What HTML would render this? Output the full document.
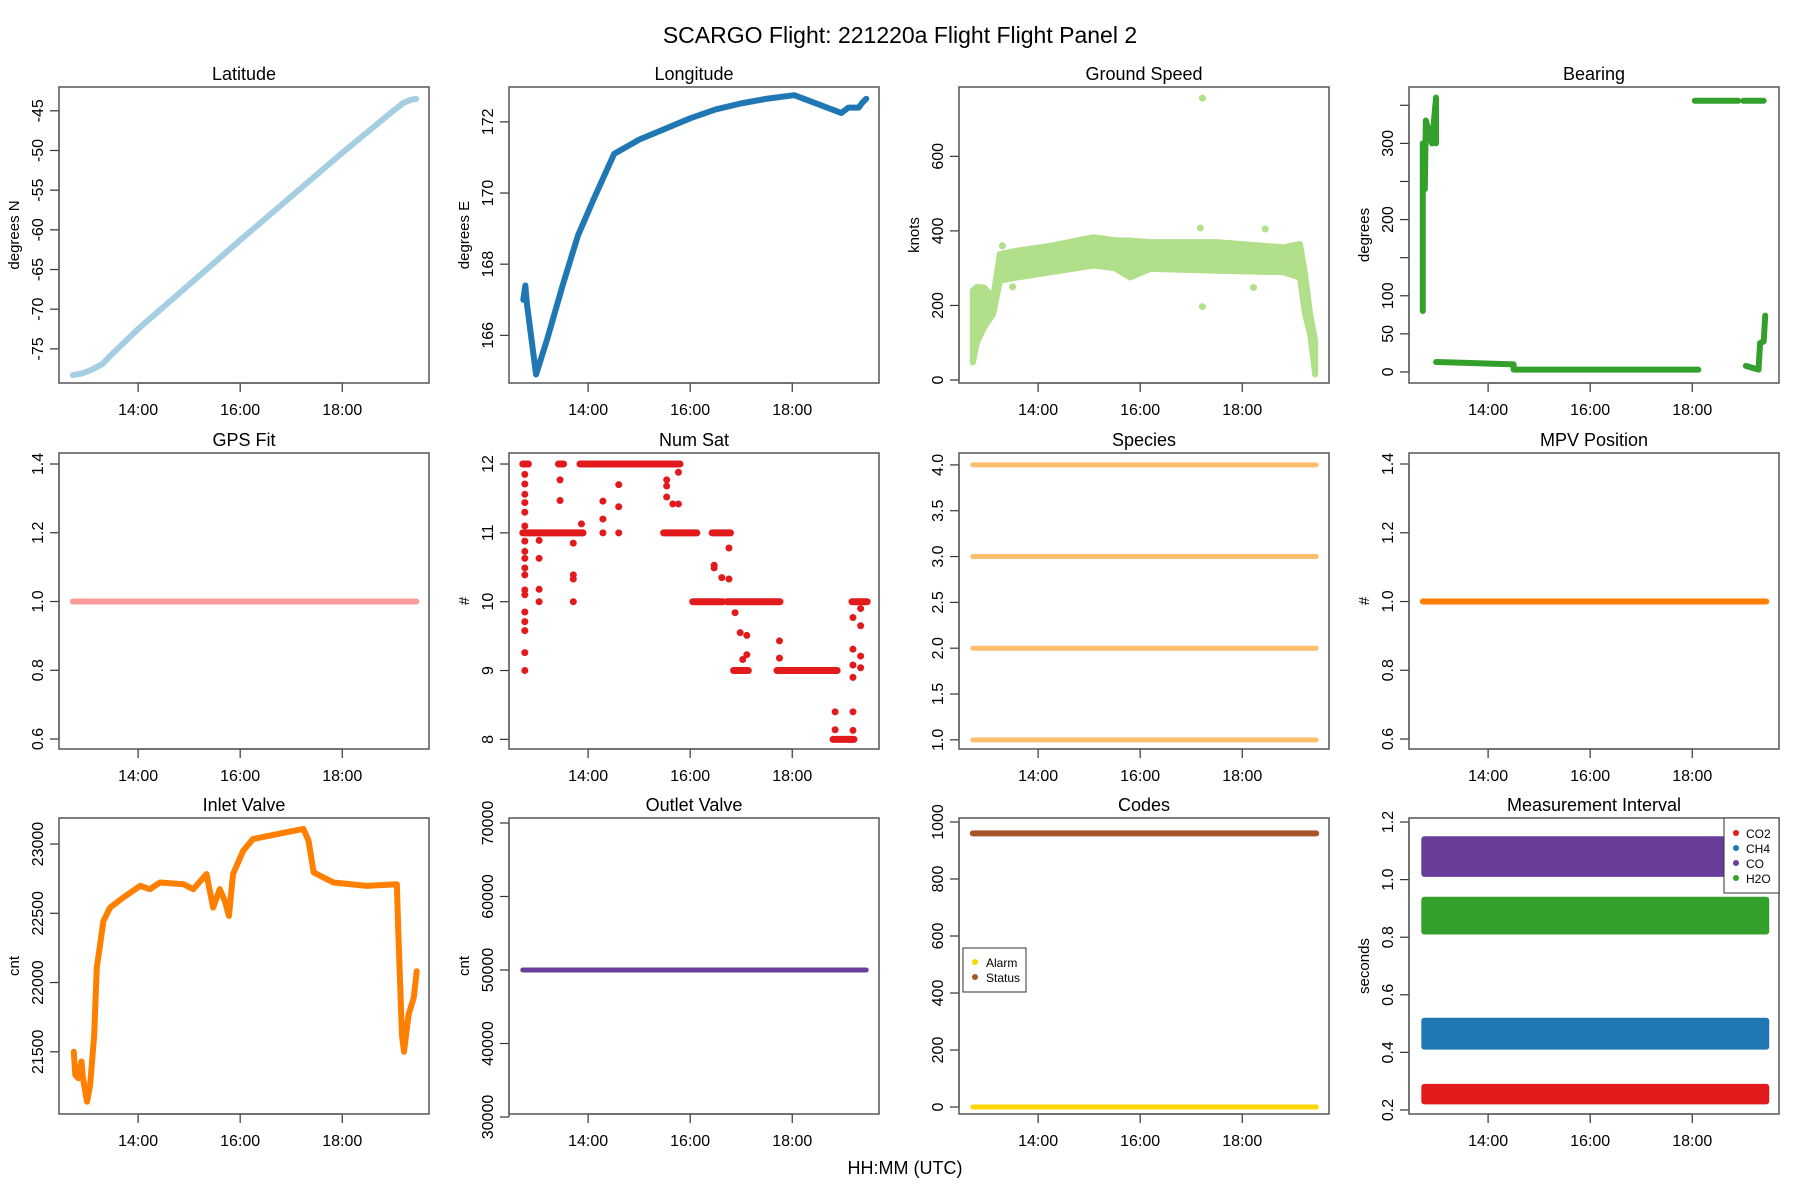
<!DOCTYPE html>
<html><head><meta charset="utf-8"><style>
body{margin:0;background:#fff}
svg{display:block;font-family:"Liberation Sans",sans-serif}
</style></head><body>
<svg id="c" width="1800" height="1200" xmlns="http://www.w3.org/2000/svg">
<text x="900" y="43" font-size="23" text-anchor="middle">SCARGO Flight: 221220a  Flight Flight  Panel 2</text>
<text x="905" y="1174" font-size="18" text-anchor="middle">HH:MM (UTC)</text>
</svg>
<script>
const xTickVals=[14,16,18];
const xTickLabels=["14:00","16:00","18:00"];
const latT=[12.72,12.9,13.1,13.3,13.5,14,15,16,17,18,19,19.2,19.35,19.45];
const latV=[-78.3,-78.1,-77.6,-76.9,-75.6,-72.5,-66.9,-61.3,-55.8,-50.3,-45.0,-44.0,-43.6,-43.5];
const lonT=[12.73,12.77,12.8,12.98,13.2,13.5,13.8,14.1,14.51,15,15.5,16,16.5,17,17.5,18.04,18.5,18.96,19.1,19.3,19.38,19.45];
const lonV=[167.0,167.4,166.9,164.9,165.9,167.4,168.8,169.8,171.1,171.5,171.8,172.1,172.35,172.52,172.65,172.75,172.5,172.25,172.4,172.4,172.55,172.65];
const gsT=[12.72,12.8,12.94,13.12,13.25,13.58,14.24,15.09,15.5,15.8,16.2,17.5,18.8,19.13,19.23,19.33,19.43];
const gsLo=[47,100,141,177,266,275,289,307,300,275,298,293,289,275,177,123,15];
const gsHi=[240,250,248,222,338,347,360,383,375,374,370,370,356,365,284,177,105];
const gsOutT=[17.22,17.22,18.22,18.45,17.18,13.3,13.5];
const gsOutV=[756,197,248,405,408,360,250];
const brgSegT=[[12.72,12.72],[12.76,12.78,12.9,12.98,12.98],[12.98,13.5,14.5,14.5,16,18.12],[18.05,18.9],[19.0,19.4],[19.05,19.3,19.3,19.33,19.4,19.43]];
const brgSegV=[[80,300],[240,330,300,360,300],[13,12,10,3,3,3],[356,356],[356,356],[8,3,5,38,40,74]];
const gpsT=[12.72,19.45];
const gpsV=[1.0,1.0];
const satRunStart=[13.84,12.72,13.42,12.72,15.48,16.43,16.05,16.72,19.17,16.85,17.7,18.8];
const satRunEnd=[15.8,12.83,13.52,13.9,16.13,16.79,16.64,17.76,19.47,17.14,18.88,19.21];
const satRunVal=[12,12,12,11,11,11,10,10,10,9,9,8];
const satPtT=[12.76,12.76,12.76,12.76,12.76,12.76,12.76,12.76,12.76,12.76,12.76,12.76,12.76,12.76,12.76,12.76,12.76,12.76,13.04,13.04,13.04,13.04,13.45,13.45,13.71,13.71,13.71,13.71,13.87,14.29,14.29,14.29,14.6,14.6,14.6,15.54,15.54,15.54,15.66,15.77,15.77,16.47,16.47,16.62,16.76,16.76,16.88,16.98,17.03,17.11,17.11,17.75,17.75,18.84,18.84,19.19,19.19,19.19,19.19,19.19,19.19,19.34,19.34,19.34,19.34];
const satPtV=[11.85,11.71,11.56,11.44,11.3,11.1,10.88,10.73,10.63,10.49,10.39,10.17,10.1,9.85,9.71,9.58,9.26,9.0,10.89,10.63,10.18,10,11.77,11.47,10.85,10.39,10.33,10,11.13,11.46,11.2,11.0,11.7,11.38,11.0,11.77,11.68,11.52,11.42,11.88,11.42,10.53,10.49,10.35,10.78,10.33,9.84,9.55,9.16,9.51,9.23,9.43,9.18,8.4,8.14,9.77,9.31,9.08,8.9,8.4,8.13,9.9,9.65,9.21,9.04];
const speciesVals=[1,2,3,4];
const mpvV=[1.0,1.0];
const inT=[12.74,12.77,12.83,12.89,12.92,13.0,13.06,13.14,13.19,13.32,13.45,13.71,14.04,14.23,14.43,14.89,15.08,15.34,15.47,15.6,15.7,15.78,15.86,16.06,16.25,16.84,17.24,17.34,17.44,17.83,18.48,19.07,19.1,19.17,19.21,19.3,19.4,19.46];
const inV=[21500,21333,21309,21430,21309,21140,21261,21623,22106,22444,22541,22614,22698,22674,22722,22710,22674,22783,22541,22674,22589,22481,22783,22952,23036,23080,23109,23024,22795,22722,22698,22710,22348,21623,21500,21768,21889,22082];
const outV=[50000,50000];
const codeStatusV=[960,960];
const codeAlarmV=[0,0];
const measNames=["CO2","CH4","CO","H2O"];
const measLo=[0.23,0.42,1.02,0.82];
const measHi=[0.28,0.51,1.14,0.93];

const NS="http://www.w3.org/2000/svg";
const svg=document.getElementById('c');
function el(tag,attrs,parent){const e=document.createElementNS(NS,tag);for(const k in attrs)e.setAttribute(k,attrs[k]);(parent||svg).appendChild(e);return e;}
const colL=[59,509,959,1409], rowT=[87,453,818], W=370, H=296;
const XD=[12.45,19.7];

function panel(ci,ri,title,ylab,yd,ticks,labels,name){
  const L=colL[ci],T=rowT[ri];
  const g=el('g',{});
  
  
  const sx=t=>L+(t-XD[0])/(XD[1]-XD[0])*W;
  const sy=v=>T+H-(v-yd[0])/(yd[1]-yd[0])*H;
  const tt=el('text',{x:L+W/2,y:T-7,'font-size':18,'text-anchor':'middle'},g);
  tt.textContent=title;
  
  
  const ax=el('g',{stroke:'#333','stroke-width':1.2},g);
  
  
  el('line',{x1:sx(xTickVals[0]),x2:sx(xTickVals[xTickVals.length-1]),y1:T+H,y2:T+H},ax);
  xTickVals.forEach((v,i)=>{
    el('line',{x1:sx(v),x2:sx(v),y1:T+H,y2:T+H+9},ax);
    const tx=el('text',{x:sx(v),y:T+H+32,'font-size':16,'text-anchor':'middle',stroke:'none',fill:'#000'},g);
    tx.textContent=xTickLabels[i];
    
    
  });
  const ay=el('g',{stroke:'#333','stroke-width':1.2},g);
  
  
  el('line',{x1:L,x2:L,y1:sy(ticks[0]),y2:sy(ticks[ticks.length-1])},ay);
  ticks.forEach((v,i)=>{
    el('line',{x1:L-9,x2:L,y1:sy(v),y2:sy(v)},ay);
    if(labels[i]!==''){
      const ty=el('text',{x:0,y:0,'font-size':16,'text-anchor':'middle',transform:`translate(${L-16},${sy(v)}) rotate(-90)`},g);
      ty.textContent=labels[i];
      
      
    }
  });
  const yl=el('text',{x:0,y:0,'font-size':15,'text-anchor':'middle',transform:`translate(${L-40},${T+H/2}) rotate(-90)`},g);
  yl.textContent=ylab;
  
  
  const clip=el('clipPath',{id:'cl'+name},g);
  el('rect',{x:L,y:T,width:W,height:H},clip);
  const plot=el('g',{'clip-path':`url(#cl${name})`},g);
  const box=el('rect',{x:L,y:T,width:W,height:H,fill:'none',stroke:'#555','stroke-width':1.5},g);
  
  
  return {sx,sy,plot,g,L,T};
}
function line(p,ts,vs,col,w,nm){
  const pl=el('polyline',{points:ts.map((t,i)=>p.sx(t)+','+p.sy(vs[i])).join(' '),fill:'none',stroke:col,'stroke-width':w,'stroke-linejoin':'round','stroke-linecap':'round'},p.plot);
  
  
  return pl;
}
function band(p,ts,lo,hi,col,nm){
  const pts=ts.map((t,i)=>p.sx(t)+','+p.sy(hi[i])).concat(ts.slice().reverse().map((t,j)=>p.sx(t)+','+p.sy(lo[ts.length-1-j])));
  const pg=el('polygon',{points:pts.join(' '),fill:col,stroke:col,'stroke-width':6,'stroke-linejoin':'round'},p.plot);
  
  
}
function dot(p,t,v,col,r,nm){
  const c=el('circle',{cx:p.sx(t),cy:p.sy(v),r:r,fill:col},p.plot);
  
  
}

// Latitude
let p=panel(0,0,'Latitude','degrees N',[-79.3,-42],[-75,-70,-65,-60,-55,-50,-45],['-75','-70','-65','-60','-55','-50','-45'],'latitude');
line(p,latT,latV,'#A6CEE3',6,'latitude-line');
// Longitude
p=panel(1,0,'Longitude','degrees E',[164.66,172.98],[166,168,170,172],['166','168','170','172'],'longitude');
line(p,lonT,lonV,'#1F78B4',6,'longitude-line');
// Ground speed
p=panel(2,0,'Ground Speed','knots',[-8,786],[0,200,400,600],['0','200','400','600'],'ground-speed');
band(p,gsT,gsLo,gsHi,'#B2DF8A','ground-speed-band');
gsOutT.forEach((t,i)=>dot(p,t,gsOutV[i],'#B2DF8A',3.5,'ground-speed-outlier'));
// Bearing
p=panel(3,0,'Bearing','degrees',[-14.5,374],[0,50,100,150,200,250,300,350],['0','50','100','','200','','300',''],'bearing');
brgSegT.forEach((ts,i)=>line(p,ts,brgSegV[i],'#33A02C',6,'bearing-segment'));
// GPS fit
p=panel(0,1,'GPS Fit','',[0.571,1.432],[0.6,0.8,1.0,1.2,1.4],['0.6','0.8','1.0','1.2','1.4'],'gps-fit');
line(p,gpsT,gpsV,'#FB9A99',6,'gps-fit-line');
// Num sat
p=panel(1,1,'Num Sat','#',[7.86,12.16],[8,9,10,11,12],['8','9','10','11','12'],'num-sat');
satRunVal.forEach((v,i)=>line(p,[satRunStart[i],satRunEnd[i]],[v,v],'#E31A1C',7,'num-sat-run'));
satPtT.forEach((t,i)=>dot(p,t,satPtV[i],'#E31A1C',3.5,'num-sat-point'));
// Species
p=panel(2,1,'Species','',[0.90,4.13],[1,1.5,2,2.5,3,3.5,4],['1.0','1.5','2.0','2.5','3.0','3.5','4.0'],'species');
speciesVals.forEach(v=>line(p,gpsT,[v,v],'#FDBF6F',5,'species-line'));
// MPV
p=panel(3,1,'MPV Position','#',[0.571,1.432],[0.6,0.8,1.0,1.2,1.4],['0.6','0.8','1.0','1.2','1.4'],'mpv-position');
line(p,gpsT,mpvV,'#FF7F00',6,'mpv-line');
// Inlet
p=panel(0,2,'Inlet Valve','cnt',[21051,23188],[21500,22000,22500,23000],['21500','22000','22500','23000'],'inlet-valve');
line(p,inT,inV,'#FF7F00',6,'inlet-line');
// Outlet
p=panel(1,2,'Outlet Valve','cnt',[30408,70680],[30000,40000,50000,60000,70000],['30000','40000','50000','60000','70000'],'outlet-valve');
line(p,gpsT,outV,'#6A3D9A',5,'outlet-line');
// Codes
p=panel(2,2,'Codes','',[-24.5,1014],[0,200,400,600,800,1000],['0','200','400','600','800','1000'],'codes');
line(p,gpsT,codeStatusV,'#A65628',6,'codes-status-line');
line(p,gpsT,codeAlarmV,'#FFD700',5,'codes-alarm-line');
{
  const lg=el('g',{},p.g);
  
  
  el('rect',{x:963,y:948,width:63,height:44,fill:'#fff',stroke:'#333','stroke-width':1},lg);
  [['Alarm','#FFD700'],['Status','#A65628']].forEach((d,i)=>{
    el('circle',{cx:975,cy:962+i*15,r:3,fill:d[1]},lg);
    const t=el('text',{x:986,y:967+i*15,'font-size':12},lg);
    t.textContent=d[0];
    
    
  });
}
// Measurement interval
p=panel(3,2,'Measurement Interval','seconds',[0.186,1.214],[0.2,0.4,0.6,0.8,1.0,1.2],['0.2','0.4','0.6','0.8','1.0','1.2'],'measurement-interval');
const measCols=['#E31A1C','#1F78B4','#6A3D9A','#33A02C'];
measNames.forEach((n,i)=>band(p,[12.75,19.45],[measLo[i],measLo[i]],[measHi[i],measHi[i]],measCols[i],'meas-band-'+n.toLowerCase()));
{
  const lg=el('g',{},p.g);
  
  
  el('rect',{x:1724,y:818,width:55,height:75,fill:'#fff',stroke:'#333','stroke-width':1},lg);
  measNames.forEach((n,i)=>{
    el('circle',{cx:1736,cy:833+i*15,r:3,fill:measCols[i]},lg);
    const t=el('text',{x:1746,y:838+i*15,'font-size':12},lg);
    t.textContent=n;
    
    
  });
}
</script>
</body></html>
